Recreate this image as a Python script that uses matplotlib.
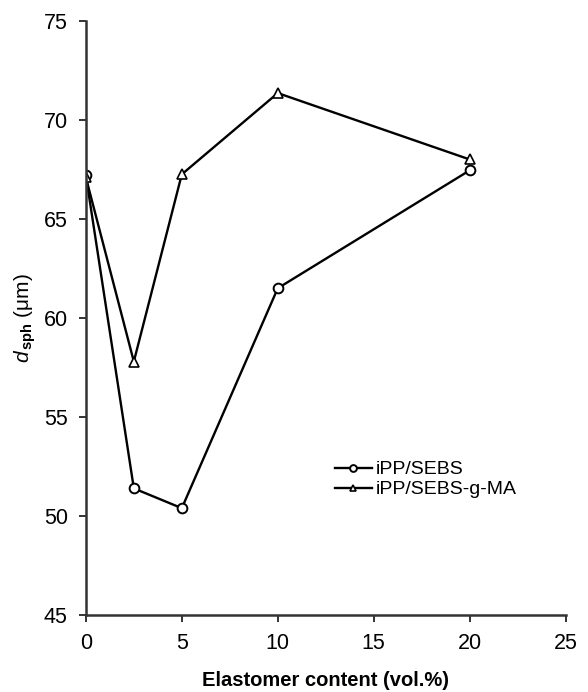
import matplotlib
matplotlib.use("Agg")
import matplotlib.pyplot as plt

plt.rcParams['font.family'] = ['Liberation Sans', 'DejaVu Sans']
plt.rcParams['mathtext.fontset'] = 'custom'
plt.rcParams['mathtext.rm'] = 'Liberation Sans'
plt.rcParams['mathtext.it'] = 'Liberation Sans:italic'
plt.rcParams['mathtext.bf'] = 'Liberation Sans:bold'

content = [0, 2.5, 5, 10, 20]
d_sebs = [67.2, 51.4, 50.4, 61.5, 67.45]
d_sebs_ma = [67.1, 57.8, 67.25, 71.35, 68.0]

fig = plt.figure(figsize=(5.88, 6.92), dpi=100)
ax = fig.add_axes([0.146, 0.111, 0.816, 0.859])

ax.plot(content, d_sebs, color='black', lw=1.7, marker='o', ms=7,
        mfc='white', mec='black', mew=1.4, label='iPP/SEBS')
ax.plot(content, d_sebs_ma, color='black', lw=1.7, marker='^', ms=7,
        mfc='white', mec='black', mew=1.2, label='iPP/SEBS-g-MA')

ax.set_xlim(0, 25)
ax.set_ylim(45, 75)
ax.set_xticks([0, 5, 10, 15, 20, 25])
ax.set_yticks([45, 50, 55, 60, 65, 70, 75])

for s in ['top', 'right']:
    ax.spines[s].set_visible(False)
for s in ['left', 'bottom']:
    ax.spines[s].set_linewidth(1.8)
    ax.spines[s].set_color('#333333')
ax.tick_params(direction='out', length=5, width=1.4, color='#333333',
               labelsize=15.5, pad=8)

ax.set_xlabel('Elastomer content (vol.%)', fontsize=14.5, fontweight='bold', labelpad=12)
ax.set_ylabel(r'$\mathit{d}_{\,\mathbf{sph}}$ (μm)', fontsize=15, labelpad=4)

ax.legend(loc='center left', bbox_to_anchor=(0.519, 0.228), frameon=False,
          borderaxespad=0, borderpad=0, fontsize=14, handlelength=1.9,
          handletextpad=0.2, labelspacing=0.12, markerscale=0.7)

fig.savefig('out.png', dpi=100)
